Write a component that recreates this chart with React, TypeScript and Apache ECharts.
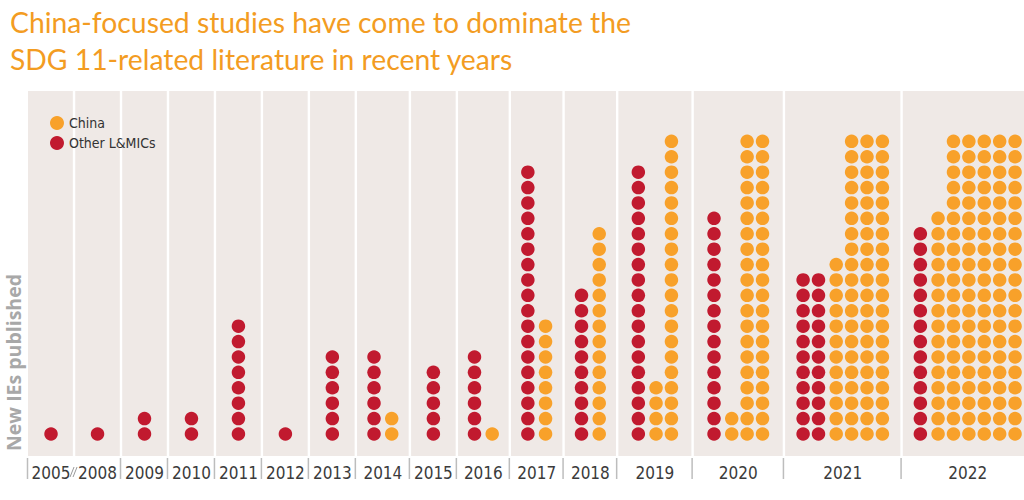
import React, { useEffect, useRef } from "react";
import * as echarts from "echarts";

// ---- data ----
const years = ["2005", "2008", "2009", "2010", "2011", "2012", "2013", "2014", "2015", "2016", "2017", "2018", "2019", "2020", "2021", "2022"];
const otherLMICs = [1, 1, 2, 2, 8, 1, 6, 6, 5, 6, 18, 10, 18, 15, 22, 14];
const china = [0, 0, 0, 0, 0, 0, 0, 2, 0, 1, 8, 14, 24, 42, 72, 115];

// ---- layout (panel widths in dot-spacing units) ----
const panelWidths = [2.99, 3.05, 3.05, 3.05, 3.05, 3.05, 3.05, 3.51, 3.05, 3.44, 3.49, 3.48, 4.9, 5.93, 7.64, 8.59];
const X_VISIBLE = 64.68; // last panel runs past the right edge
const MAX_ROWS = 20;
const GROUP_GAP = 0.15;
const Y_MIN = -1.43;
const Y_MAX = 22.27;

const RED = "#c11a2f";
const ORANGE = "#f8a12a";
const PANEL_BG = "#efe9e6";
const NARROW = "'Liberation Sans Narrow', 'DejaVu Sans Condensed', 'Roboto', sans-serif";

function buildLayout() {
  const panels: number[][] = [];
  const redPts: number[][] = [];
  const chinaPts: number[][] = [];
  let start = 0;
  years.forEach((_, i) => {
    const w = panelWidths[i];
    const end = start + w;
    panels.push([start, end]);
    const red = otherLMICs[i];
    const ch = china[i];
    const redCols = Math.ceil(red / MAX_ROWS);
    const chCols = Math.ceil(ch / MAX_ROWS);
    const redHeights: number[] = [];
    if (redCols > 0) {
      const per = Math.ceil(red / redCols);
      let left = red;
      for (let k = 0; k < redCols; k++) {
        const h = Math.min(per, left);
        redHeights.push(h);
        left -= h;
      }
    }
    const chHeights: number[] = [];
    if (chCols > 0) {
      chHeights.push(ch - MAX_ROWS * (chCols - 1));
      for (let k = 1; k < chCols; k++) chHeights.push(MAX_ROWS);
    }
    const gap = redCols > 0 && chCols > 0 ? GROUP_GAP : 0;
    const n = redCols + chCols;
    const groupW = n - 1 + gap;
    const x0 = start + w / 2 - groupW / 2;
    redHeights.forEach((h, k) => {
      for (let r = 0; r < h; r++) redPts.push([x0 + k, r]);
    });
    chHeights.forEach((h, k) => {
      for (let r = 0; r < h; r++) chinaPts.push([x0 + redCols + gap + k, r]);
    });
    start = end;
  });
  return { panels, redPts, chinaPts };
}

export default function App() {
  const ref = useRef<HTMLDivElement>(null);
  useEffect(() => {
    if (!ref.current) return;
    const chart = echarts.init(ref.current, undefined, { renderer: "svg" });
    const { panels, redPts, chinaPts } = buildLayout();

    const option: any = {
      animation: false,
      backgroundColor: "#ffffff",
      title: {
        text: "China-focused studies have come to dominate the\nSDG 11-related literature in recent years",
        left: 5,
        top: -2,
        textStyle: {
          color: "#f39c22",
          fontFamily: "Lato, 'Open Sans', sans-serif",
          fontWeight: "normal",
          fontSize: 28.3,
          lineHeight: 37,
        },
      },
      legend: {
        orient: "vertical",
        left: 45,
        top: 111,
        icon: "circle",
        itemWidth: 14,
        itemHeight: 14,
        itemGap: 6,
        data: ["China", "Other L&MICs"],
        textStyle: { color: "#333333", fontSize: 14, fontFamily: NARROW },
      },
      grid: { left: 28, right: 0, top: 91, bottom: 44 },
      xAxis: { type: "value", min: 0, max: X_VISIBLE, show: false },
      yAxis: { type: "value", min: Y_MIN, max: Y_MAX, show: false },
      graphic: [
        {
          type: "text",
          x: 13,
          y: 451,
          rotation: Math.PI / 2,
          style: {
            text: "New IEs published",
            fill: "#a8a8a8",
            font: "bold 19.5px 'Open Sans', Lato, sans-serif",
            align: "left",
            verticalAlign: "middle",
          },
        },
      ],
      series: [
        {
          type: "custom",
          name: "panels",
          z: 0,
          silent: true,
          clip: false,
          data: panels,
          renderItem: (params: any, api: any) => {
            const idx = params.dataIndex;
            const s = api.value(0);
            const e = api.value(1);
            const tl = api.coord([s, Y_MAX]);
            const br = api.coord([e, Y_MIN]);
            const leftInset = idx === 0 ? 0 : 1.2;
            const children: any[] = [
              {
                type: "rect",
                shape: { x: tl[0] + leftInset, y: tl[1], width: br[0] - tl[0] - leftInset - 1.2, height: br[1] - tl[1] },
                style: { fill: PANEL_BG },
              },
              {
                type: "text",
                x: (tl[0] + br[0]) / 2,
                y: br[1] + 17,
                style: {
                  text: years[idx],
                  fill: "#3b3b3b",
                  font: "17px " + NARROW,
                  align: "center",
                  verticalAlign: "middle",
                },
              },
            ];
            if (idx === 1) {
              const x = tl[0];
              const y = br[1] + 16;
              children.push(
                { type: "line", shape: { x1: x - 4, y1: y + 5, x2: x, y2: y - 5 }, style: { stroke: "#9a9a9a", lineWidth: 1 } },
                { type: "line", shape: { x1: x - 1, y1: y + 5, x2: x + 3, y2: y - 5 }, style: { stroke: "#9a9a9a", lineWidth: 1 } }
              );
            } else {
              children.push({
                type: "line",
                shape: { x1: tl[0] - 0.5, y1: br[1] + 2, x2: tl[0] - 0.5, y2: br[1] + 23 },
                style: { stroke: "#bdbdbd", lineWidth: 1.5 },
              });
            }
            return { type: "group", children };
          },
        },
        {
          type: "scatter",
          name: "China",
          z: 3,
          symbol: "circle",
          symbolSize: 13.5,
          itemStyle: { color: ORANGE, opacity: 1 },
          data: chinaPts,
        },
        {
          type: "scatter",
          name: "Other L&MICs",
          z: 3,
          symbol: "circle",
          symbolSize: 13.5,
          itemStyle: { color: RED, opacity: 1 },
          data: redPts,
        },
      ],
    };
    chart.setOption(option);
    return () => chart.dispose();
  }, []);
  return <div ref={ref} style={{ position: "absolute", left: 0, top: 0, width: 1024, height: 500 }} />;
}
